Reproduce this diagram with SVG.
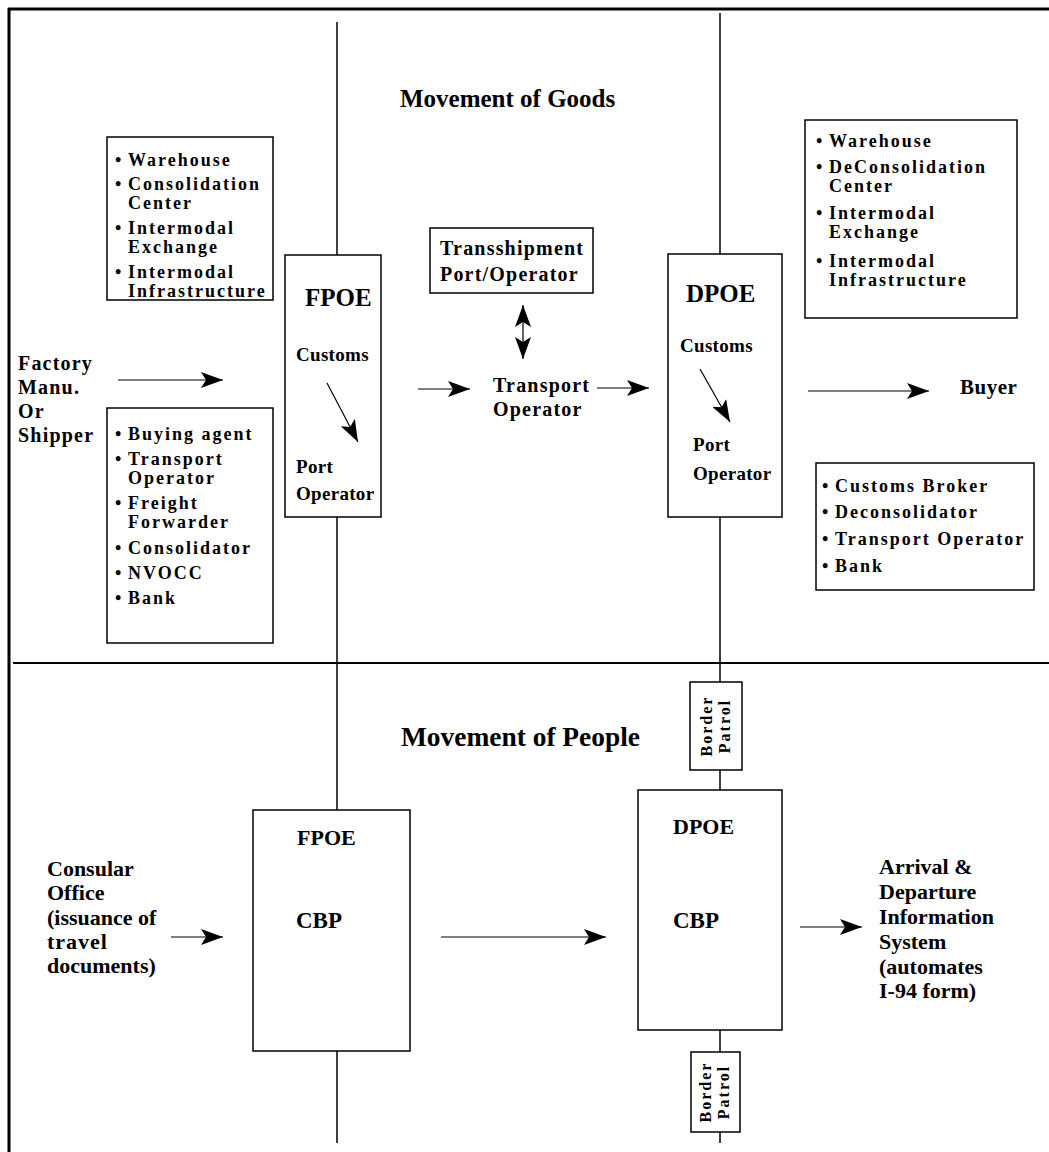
<svg xmlns="http://www.w3.org/2000/svg" width="1049" height="1152" viewBox="0 0 1049 1152">
<style>
  text { font-family: "Liberation Serif", "Times New Roman", serif; font-weight: bold; fill: #000; }
  .box { fill: #fff; stroke: #000; stroke-width: 1.5; }
  .ln { stroke: #000; stroke-width: 1.5; fill: none; }
  .arr { stroke: #000; stroke-width: 1.2; fill: none; marker-end: url(#ah); }
  .li { font-size: 18px; letter-spacing: 2px; }
  .lbl { font-size: 19px; letter-spacing: 0.3px; }
  .big { font-size: 20px; letter-spacing: 1.2px; }
  .txt { font-size: 22px; }
  .hd { font-size: 25px; }
  .bp { font-size: 16px; letter-spacing: 2px; }
</style>
<defs>
  <marker id="ah" markerUnits="userSpaceOnUse" markerWidth="24" markerHeight="16" refX="22" refY="8" orient="auto">
    <path d="M0,0 L22,8 L0,16 L5,8 z" fill="#000"/>
  </marker>
  <marker id="ahs" markerUnits="userSpaceOnUse" markerWidth="24" markerHeight="16" refX="2" refY="8" orient="auto">
    <path d="M24,0 L2,8 L24,16 L19,8 z" fill="#000"/>
  </marker>
</defs>
<rect width="1049" height="1152" fill="#fff"/>

<g id="frame">
  <line x1="8" y1="9" x2="1049" y2="9" stroke="#000" stroke-width="3"/>
  <line x1="9" y1="8" x2="9" y2="1152" stroke="#000" stroke-width="3"/>
  <line x1="13" y1="663" x2="1049" y2="663" stroke="#000" stroke-width="2"/>
</g>

<g id="connectors">
  <line class="ln" x1="337" y1="22" x2="337" y2="1143"/>
  <line class="ln" x1="720" y1="13" x2="720" y2="1143"/>
  <line class="arr" x1="118" y1="380" x2="223" y2="380"/>
  <line class="arr" x1="418" y1="389" x2="470" y2="389"/>
  <line class="arr" x1="597" y1="388" x2="649" y2="388"/>
  <line class="arr" x1="808" y1="391" x2="929" y2="391"/>
  <line x1="523" y1="305" x2="523" y2="359" stroke="#000" stroke-width="1.2" marker-start="url(#ahs)" marker-end="url(#ah)"/>
  <line class="arr" x1="171" y1="937" x2="223" y2="937"/>
  <line class="arr" x1="441" y1="937" x2="606" y2="937"/>
  <line class="arr" x1="800" y1="927" x2="862" y2="927"/>
</g>

<g id="titles">
  <text class="hd" x="400" y="107">Movement of Goods</text>
  <text x="401" y="746" font-size="27" textLength="239" lengthAdjust="spacingAndGlyphs">Movement of People</text>
</g>

<g id="shipper">
  <text class="big"><tspan x="18" y="370">Factory</tspan><tspan x="18" y="394">Manu.</tspan><tspan x="18" y="418">Or</tspan><tspan x="18" y="442">Shipper</tspan></text>
</g>

<g id="origin-facilities">
  <rect class="box" x="107" y="137" width="166" height="163"/>
  <text class="li"><tspan x="115" y="166">•</tspan><tspan x="128" y="166">Warehouse</tspan></text>
  <text class="li"><tspan x="115" y="190">•</tspan><tspan x="128" y="190">Consolidation</tspan><tspan x="128" y="209">Center</tspan></text>
  <text class="li"><tspan x="115" y="234">•</tspan><tspan x="128" y="234">Intermodal</tspan><tspan x="128" y="253">Exchange</tspan></text>
  <text class="li"><tspan x="115" y="278">•</tspan><tspan x="128" y="278">Intermodal</tspan><tspan x="128" y="297">Infrastructure</tspan></text>
</g>

<g id="origin-agents">
  <rect class="box" x="107" y="408" width="166" height="235"/>
  <text class="li"><tspan x="115" y="440">•</tspan><tspan x="128" y="440">Buying agent</tspan></text>
  <text class="li"><tspan x="115" y="465">•</tspan><tspan x="128" y="465">Transport</tspan><tspan x="128" y="484">Operator</tspan></text>
  <text class="li"><tspan x="115" y="509">•</tspan><tspan x="128" y="509">Freight</tspan><tspan x="128" y="528">Forwarder</tspan></text>
  <text class="li"><tspan x="115" y="554">•</tspan><tspan x="128" y="554">Consolidator</tspan></text>
  <text class="li"><tspan x="115" y="579">•</tspan><tspan x="128" y="579">NVOCC</tspan></text>
  <text class="li"><tspan x="115" y="604">•</tspan><tspan x="128" y="604">Bank</tspan></text>
</g>

<g id="fpoe-goods">
  <rect class="box" x="285" y="255" width="96" height="262"/>
  <text x="305" y="306" font-size="25">FPOE</text>
  <text class="lbl" x="296" y="361">Customs</text>
  <line class="arr" x1="327" y1="383" x2="358" y2="442"/>
  <text class="lbl" x="296" y="473">Port</text>
  <text class="lbl" x="296" y="500">Operator</text>
</g>

<g id="transshipment">
  <rect class="box" x="430" y="228" width="163" height="65"/>
  <text class="big" x="440" y="255">Transshipment</text>
  <text class="big" x="440" y="281">Port/Operator</text>
</g>

<g id="transport-operator">
  <text class="big" x="493" y="392">Transport</text>
  <text class="big" x="493" y="416">Operator</text>
</g>

<g id="dpoe-goods">
  <rect class="box" x="668" y="254" width="114" height="263"/>
  <text x="686" y="302" font-size="25">DPOE</text>
  <text class="lbl" x="680" y="352">Customs</text>
  <line class="arr" x1="700" y1="369" x2="730" y2="422"/>
  <text class="lbl" x="693" y="451">Port</text>
  <text class="lbl" x="693" y="480">Operator</text>
</g>

<g id="dest-facilities">
  <rect class="box" x="805" y="120" width="212" height="198"/>
  <text class="li"><tspan x="816" y="147">•</tspan><tspan x="829" y="147">Warehouse</tspan></text>
  <text class="li"><tspan x="816" y="173">•</tspan><tspan x="829" y="173">DeConsolidation</tspan><tspan x="829" y="192">Center</tspan></text>
  <text class="li"><tspan x="816" y="219">•</tspan><tspan x="829" y="219">Intermodal</tspan><tspan x="829" y="238">Exchange</tspan></text>
  <text class="li"><tspan x="816" y="267">•</tspan><tspan x="829" y="267">Intermodal</tspan><tspan x="829" y="286">Infrastructure</tspan></text>
</g>

<g id="buyer">
  <text x="960" y="394" font-size="21" letter-spacing="0.5">Buyer</text>
</g>

<g id="dest-agents">
  <rect class="box" x="816" y="463" width="218" height="127"/>
  <text class="li"><tspan x="822" y="492">•</tspan><tspan x="835" y="492">Customs Broker</tspan></text>
  <text class="li"><tspan x="822" y="518">•</tspan><tspan x="835" y="518">Deconsolidator</tspan></text>
  <text class="li"><tspan x="822" y="545">•</tspan><tspan x="835" y="545">Transport Operator</tspan></text>
  <text class="li"><tspan x="822" y="572">•</tspan><tspan x="835" y="572">Bank</tspan></text>
</g>

<g id="border-patrol-top">
  <rect class="box" x="690" y="682" width="52" height="88"/>
  <text class="bp" transform="translate(716,726) rotate(-90)" text-anchor="middle"><tspan x="0" y="-4">Border</tspan><tspan x="0" y="14">Patrol</tspan></text>
</g>

<g id="consular">
  <text class="txt"><tspan x="47" y="876">Consular</tspan><tspan x="47" y="900">Office</tspan><tspan x="47" y="925">(issuance of</tspan><tspan x="47" y="949" letter-spacing="1">travel</tspan><tspan x="47" y="973">documents)</tspan></text>
</g>

<g id="fpoe-people">
  <rect class="box" x="253" y="810" width="157" height="241"/>
  <text x="297" y="845" font-size="22">FPOE</text>
  <text x="296" y="928" font-size="23">CBP</text>
</g>

<g id="dpoe-people">
  <rect class="box" x="638" y="790" width="144" height="240"/>
  <text x="673" y="834" font-size="22">DPOE</text>
  <text x="673" y="928" font-size="23">CBP</text>
</g>

<g id="arrival-departure">
  <text class="txt"><tspan x="879" y="874">Arrival &amp;</tspan><tspan x="879" y="899">Departure</tspan><tspan x="879" y="924">Information</tspan><tspan x="879" y="949">System</tspan><tspan x="879" y="974">(automates</tspan><tspan x="879" y="998">I-94 form)</tspan></text>
</g>

<g id="border-patrol-bottom">
  <rect class="box" x="691" y="1052" width="49" height="80"/>
  <text class="bp" transform="translate(715,1092) rotate(-90)" text-anchor="middle"><tspan x="0" y="-4">Border</tspan><tspan x="0" y="14">Patrol</tspan></text>
</g>
</svg>
